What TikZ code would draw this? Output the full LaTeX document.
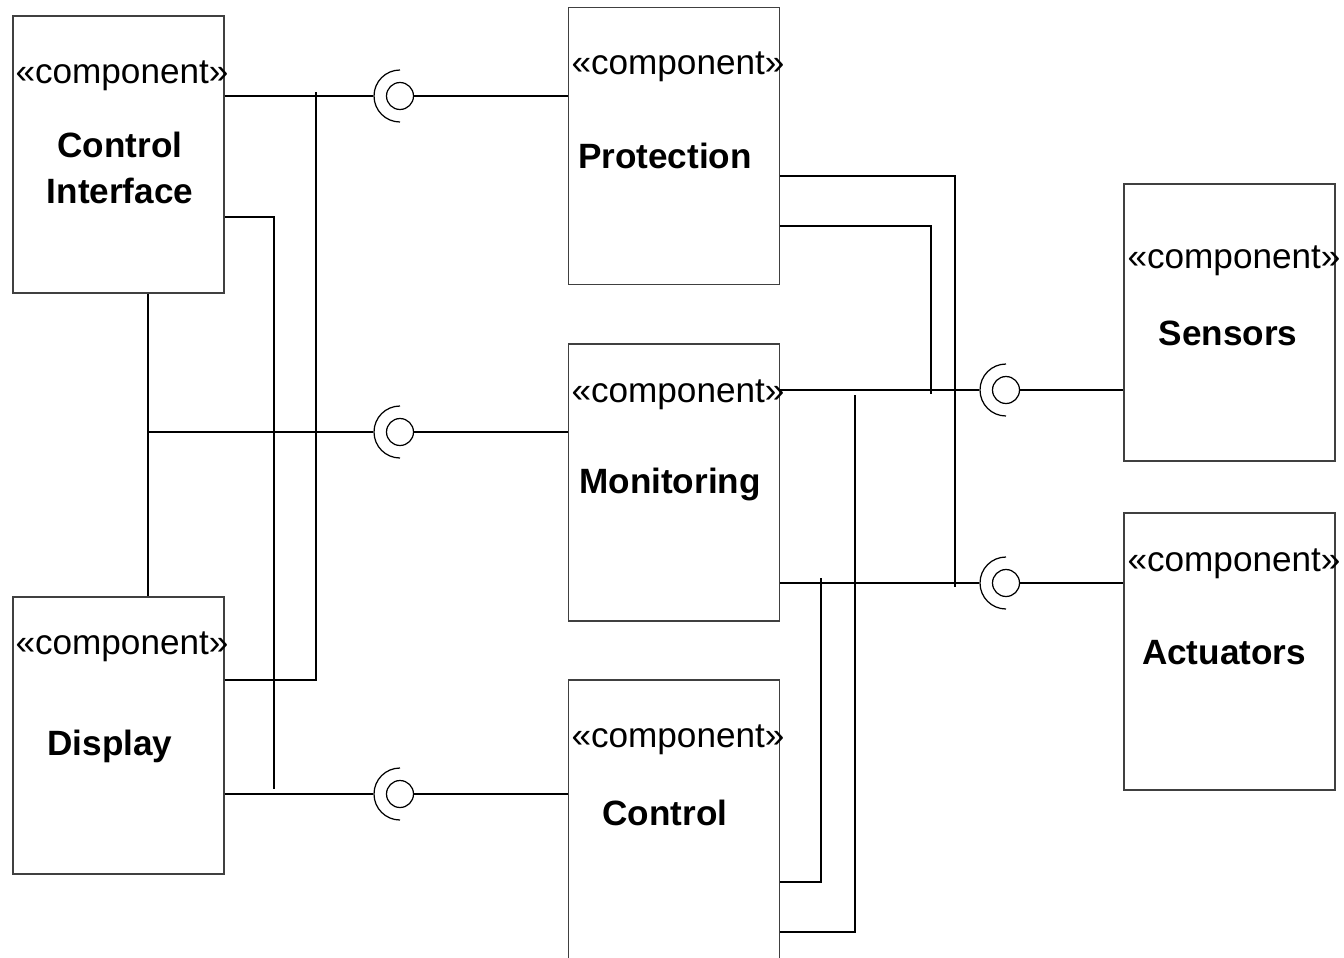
\documentclass[tikz,border=0pt]{standalone}
\usepackage{fontspec}
\setmainfont{Liberation Sans}
\usetikzlibrary{positioning}

\tikzset{
  comp/.style={draw=black!75, line width=0.85pt, minimum width=4.22cm, minimum height=5.54cm, inner sep=0pt},
  stereo/.style={font=\fontsize{20}{24}\selectfont, inner sep=0pt},
  cname/.style={font=\fontsize{20}{24}\selectfont\bfseries, align=center, inner sep=0pt},
  ball/.style={circle, draw, line width=0.7pt, minimum size=0.54cm, inner sep=0pt},
  wire/.style={line width=0.7pt},
}

% socket half circle round a ball
\newcommand{\socketof}[1]{\draw[wire] (#1.center) ++(0,26) arc[start angle=90, end angle=270, radius=26];}

\begin{document}
\begin{tikzpicture}[x=0.02cm, y=-0.02cm]
  \clip (0,0) rectangle (1344,957);

  % Components
  \node[comp] (ci)   at (118.5,154.5) {};
  \node[comp] (disp) at (118.5,735.5) {};
  \node[comp] (prot) at (674,146) {};
  \node[comp] (mon)  at (674,482.5) {};
  \node[comp, minimum height=5.64cm] (ctrl) at (674,821) {};
  \node[comp] (sens) at (1229.5,322.5) {};
  \node[comp] (act)  at (1229.5,651.5) {};

  % Stereotypes
  \node[stereo] (ci-s)   at (122,76)   {«component»};
  \node[stereo] (disp-s) at (122,647)  {«component»};
  \node[stereo] (prot-s) at (678,67)   {«component»};
  \node[stereo] (mon-s)  at (678,395)  {«component»};
  \node[stereo] (ctrl-s) at (678,740)  {«component»};
  \node[stereo] (sens-s) at (1234,261) {«component»};
  \node[stereo] (act-s)  at (1234,564) {«component»};

  % Names
  \node[cname] (ci-n)   at (120,168)  {Control\\[2pt]Interface};
  \node[cname] (disp-n) at (110,746)  {Display};
  \node[cname] (prot-n) at (665,156)  {Protection};
  \node[cname] (mon-n)  at (670,484)  {Monitoring};
  \node[cname] (ctrl-n) at (665,813)  {Control};
  \node[cname] (sens-n) at (1228,333) {Sensors};
  \node[cname] (act-n)  at (1224,653) {Actuators};

  % Balls of the provided interfaces
  \node[ball] (b1) at (400,96)  {};
  \node[ball] (b2) at (400,432) {};
  \node[ball] (b3) at (400,794) {};
  \node[ball] (b4) at (1006,390) {};
  \node[ball] (b5) at (1006,583) {};
  \socketof{b1} \socketof{b2} \socketof{b3} \socketof{b4} \socketof{b5}

  % Bends of the wires
  \coordinate (j1) at (316,92);
  \coordinate (j2) at (274,789);
  \coordinate (j3) at (148,432);
  \coordinate (j4) at (955,587);
  \coordinate (j5) at (931,394);
  \coordinate (j6) at (821,578);
  \coordinate (j7) at (855,395);

  % Left side
  \draw[wire] (ci.east |- b1) -- ([xshift=-0.26cm]b1.west);
  \draw[wire] (b1.east) -- (prot.west |- b1);
  \draw[wire] (disp.east |- 0,680) -- (j1 |- 0,680) -- (j1);
  \draw[wire] (ci.east |- 0,217) -- (j2 |- 0,217) -- (j2);
  \draw[wire] (ci.south -| j3) -- (disp.north -| j3);
  \draw[wire] (j3) -- ([xshift=-0.26cm]b2.west);
  \draw[wire] (b2.east) -- (mon.west |- b2);
  \draw[wire] (disp.east |- b3) -- ([xshift=-0.26cm]b3.west);
  \draw[wire] (b3.east) -- (ctrl.west |- b3);

  % Right side
  \draw[wire] (prot.east |- 0,176) -- (j4 |- 0,176) -- (j4);
  \draw[wire] (prot.east |- 0,226) -- (j5 |- 0,226) -- (j5);
  \draw[wire] (mon.east |- b4) -- ([xshift=-0.26cm]b4.west);
  \draw[wire] (b4.east) -- (sens.west |- b4);
  \draw[wire] (mon.east |- b5) -- ([xshift=-0.26cm]b5.west);
  \draw[wire] (b5.east) -- (act.west |- b5);
  \draw[wire] (ctrl.east |- 0,882) -- (j6 |- 0,882) -- (j6);
  \draw[wire] (ctrl.east |- 0,932) -- (j7 |- 0,932) -- (j7);
\end{tikzpicture}
\end{document}
